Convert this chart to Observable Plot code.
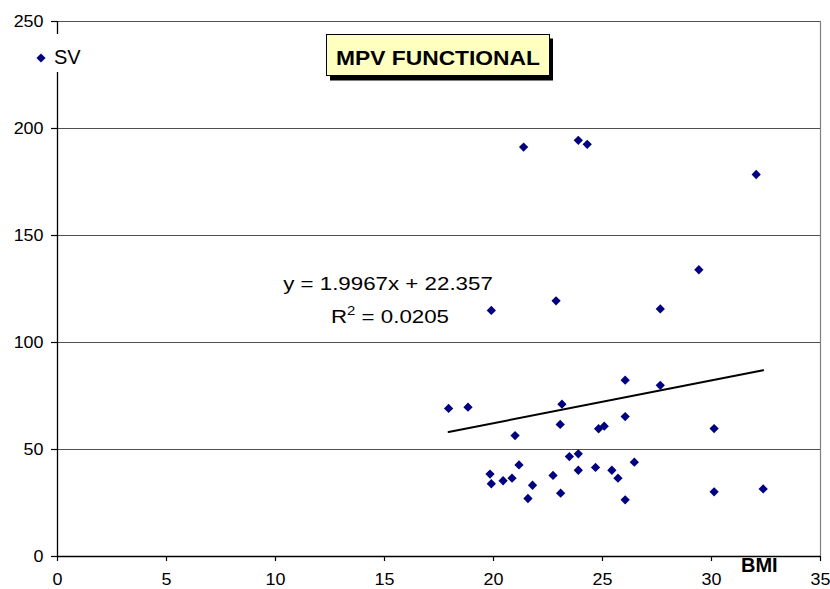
<!DOCTYPE html>
<html><head><meta charset="utf-8">
<script src="https://cdn.jsdelivr.net/npm/d3@7"></script>
<script src="https://cdn.jsdelivr.net/npm/@observablehq/plot@0.6"></script>
<style>
body{margin:0;background:#fff;}
#wrap{position:relative;width:830px;height:589px;overflow:hidden;}
#wrap svg{position:absolute;left:0;top:0;}
</style></head><body><div id="wrap"></div>
<script>
// ---- data ----
const bmi = [17.94, 18.83, 19.84, 19.90, 19.90, 20.44, 20.85, 20.99, 21.17, 21.38,
             21.58, 21.79, 22.73, 22.87, 23.06, 23.08, 23.14, 23.48, 23.89, 23.89,
             23.89, 24.30, 24.68, 24.82, 25.08, 25.43, 25.71, 26.04, 26.04, 26.04,
             26.46, 27.65, 27.65, 29.42, 30.12, 30.12, 32.05, 32.37];
const sv  = [69.2, 69.8, 38.5, 34.0, 115.0, 35.4, 36.6, 56.5, 42.8, 191.3,
             27.1, 33.3, 37.9, 119.5, 61.7, 29.6, 71.2, 46.7, 48.0, 40.3,
             194.5, 192.6, 41.6, 59.7, 60.9, 40.3, 36.6, 82.4, 65.4, 26.5,
             44.1, 80.0, 115.7, 134.0, 59.8, 30.2, 178.5, 31.6];
const trendSlope = 1.9967;
const trendIntercept = 22.357;
const trendR2 = "0.0205";
const seriesName = "SV";
const chartTitle = "MPV FUNCTIONAL";
const xLabel = "BMI";
const xTicks = [0, 5, 10, 15, 20, 25, 30, 35];
const yTicks = [0, 50, 100, 150, 200, 250];
const yGrid = [50, 100, 150, 200, 250];

// ---- build ----
const FONT = "'Liberation Sans', Arial, sans-serif";
const pts = bmi.map((x, i) => ({x, y: sv[i]}));
const xr = d3.extent(bmi);
const fit = xr.map(x => ({x, y: trendSlope * x + trendIntercept}));

const excelDiamond = {
  draw(ctx, size) {
    const h = Math.sqrt(size / 2);
    ctx.moveTo(0, -h); ctx.lineTo(h, 0); ctx.lineTo(0, h); ctx.lineTo(-h, 0); ctx.closePath();
  }
};

const plot = Plot.plot({
  width: 830, height: 589,
  marginLeft: 57, marginRight: 10, marginTop: 21, marginBottom: 33,
  x: {domain: [0, 35], label: null},
  y: {domain: [0, 250], label: null},
  style: {fontFamily: FONT, fontSize: "16px", background: "white", color: "black"},
  marks: [
    Plot.ruleY(yGrid, {stroke: "#505050", strokeWidth: 1.2}),
    Plot.ruleX([35], {stroke: "#808080", strokeWidth: 1.2}),
    Plot.line(fit, {x: "x", y: "y", stroke: "black", strokeWidth: 2}),
    Plot.dot(pts, {x: "x", y: "y", symbol: excelDiamond, r: 3.7, fill: "#000080", stroke: "none"}),
    Plot.ruleX([0], {stroke: "black", strokeWidth: 1.3}),
    Plot.ruleY([0], {stroke: "black", strokeWidth: 1.3}),
    Plot.axisY({ticks: yTicks, tickSize: 6, tickPadding: 8, tickFormat: d => String(d), label: null, stroke: "black", strokeWidth: 1.2}),
    Plot.axisX({ticks: xTicks, tickSize: 5, tickPadding: 12, tickFormat: d => String(d), label: null, stroke: "black", strokeWidth: 1.2})
  ]
});
// horizontally stretched tick labels as in the reference
plot.querySelectorAll("g[aria-label$='tick label'] text").forEach(t => {
  const tr = t.getAttribute("transform") || "";
  t.setAttribute("transform", tr + " scale(1.12,1)");
});
document.getElementById("wrap").appendChild(plot);

// ---- overlays: legend, title box, trendline label, axis title ----
const ns = "http://www.w3.org/2000/svg";
const ov = document.createElementNS(ns, "svg");
ov.setAttribute("width", 830); ov.setAttribute("height", 589);
ov.setAttribute("font-family", FONT);
ov.innerHTML = `
  <rect x="30" y="34" width="62" height="38" fill="white"/>
  <path d="M41,53.4 L45.6,58 L41,62.6 L36.4,58 Z" fill="#000080"/>
  <text x="54" y="64" font-size="20">${seriesName}</text>
  <rect x="330" y="38.5" width="223" height="42" fill="black"/>
  <rect x="326.5" y="34.5" width="223" height="41" fill="#FFFFC0" stroke="black" stroke-width="1"/>
  <text transform="translate(438,65) scale(1.14,1)" text-anchor="middle" font-size="20" font-weight="bold">${chartTitle}</text>
  <text transform="translate(388,290) scale(1.24,1)" text-anchor="middle" font-size="18">y = ${trendSlope}x + ${trendIntercept}</text>
  <text transform="translate(390,323) scale(1.24,1)" text-anchor="middle" font-size="18">R<tspan font-size="12" dy="-8">2</tspan><tspan dy="8"> = ${trendR2}</tspan></text>
  <text x="741" y="572" font-size="20" font-weight="bold">${xLabel}</text>
`;
document.getElementById("wrap").appendChild(ov);
</script>
</body></html>
